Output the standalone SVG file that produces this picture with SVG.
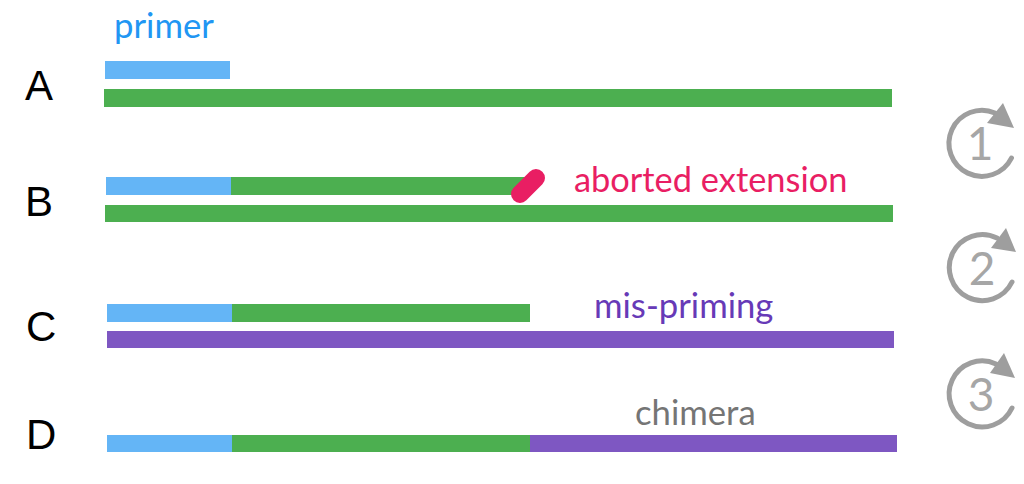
<svg xmlns="http://www.w3.org/2000/svg" width="1024" height="484" viewBox="0 0 1024 484">
<style>
.blue{fill:#64b5f6}.green{fill:#4caf50}.purple{fill:#7e57c2}
.letter{font-family:"Liberation Sans",Arial,sans-serif;font-size:42px;fill:#000}
.lab{font-family:Lato,"Open Sans",sans-serif;font-size:34.7px}
.arc{fill:none;stroke:#9e9e9e;stroke-width:5;stroke-linecap:round}
.head{fill:#9e9e9e}
.num{font-family:Lato,sans-serif;font-size:46px;fill:#a6a6a6;text-anchor:middle}
</style>
<g id="row-a">
<text class="letter" x="25" y="100">A</text>
<text class="lab" x="114" y="38" fill="#2196f3">primer</text>
<rect class="blue" x="105" y="61" width="125" height="18"/>
<rect class="green" x="104" y="89" width="788" height="18"/>
</g>
<g id="row-b">
<text class="letter" x="25" y="216">B</text>
<rect class="blue" x="106" y="177" width="125" height="18"/>
<rect class="green" x="231" y="177" width="295" height="18"/>
<rect class="green" x="105" y="205" width="788" height="17"/>
<line x1="520" y1="194" x2="536" y2="178" stroke="#e91e63" stroke-width="18" stroke-linecap="round"/>
<text class="lab" x="574" y="192" style="font-size:34.4px" fill="#e91e63">aborted extension</text>
</g>
<g id="row-c">
<text class="letter" x="26" y="341">C</text>
<rect class="blue" x="107" y="304" width="125" height="18"/>
<rect class="green" x="232" y="304" width="298" height="18"/>
<rect class="purple" x="107" y="331" width="787" height="17"/>
<text class="lab" x="594" y="318" fill="#673ab7">mis-priming</text>
</g>
<g id="row-d">
<text class="letter" x="26" y="449">D</text>
<rect class="blue" x="107" y="435" width="125" height="17"/>
<rect class="green" x="232" y="435" width="298" height="17"/>
<rect class="purple" x="530" y="435" width="367" height="17"/>
<text class="lab" x="635" y="425" fill="#757575">chimera</text>
</g>
<g id="cycle-1">
<path class="arc" d="M1011.5 158 A33 33 0 1 1 995 113"/>
<polygon class="head" points="1003,103 1014,128 987,123"/>
<text class="num" x="980" y="160">1</text>
</g>
<g id="cycle-2">
<path class="arc" d="M1012 282 A33 33 0 1 1 997 238"/>
<polygon class="head" points="1006,228 1016,252 991,248"/>
<text class="num" x="982" y="285">2</text>
</g>
<g id="cycle-3">
<path class="arc" d="M1012 408 A33 33 0 1 1 996 364"/>
<polygon class="head" points="1004,353 1015,378 990,373"/>
<text class="num" x="981" y="411">3</text>
</g>
</svg>
